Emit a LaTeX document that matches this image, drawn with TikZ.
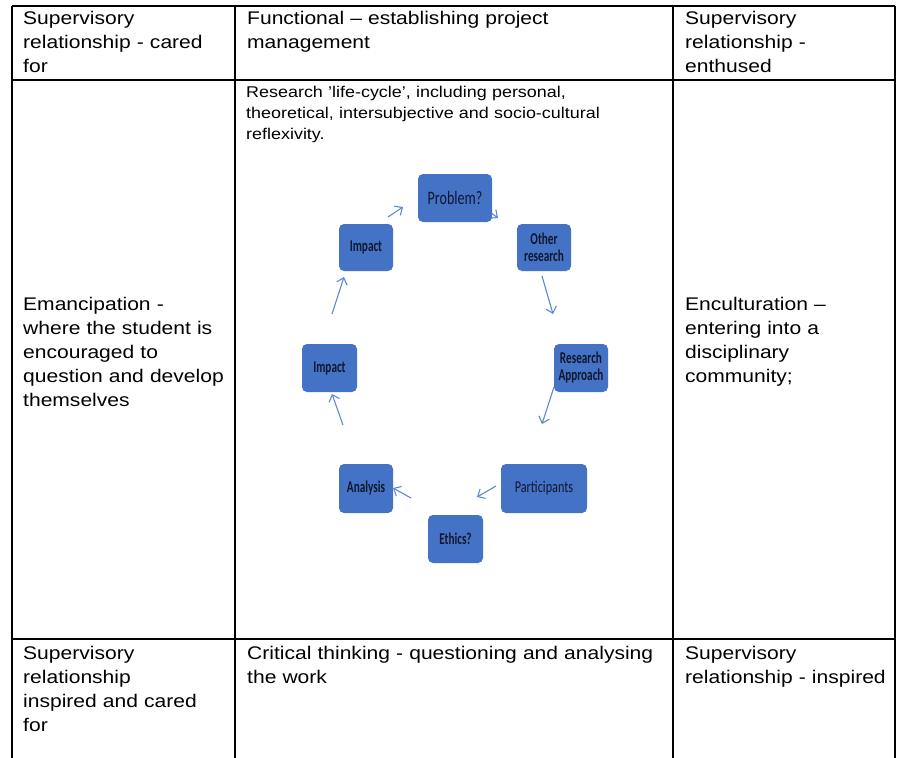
\documentclass[tikz,border=0pt]{standalone}
\usepackage{fontspec}
\setmainfont{Liberation Sans}[FakeStretch=1.15]
\newfontfamily\labelfont{Carlito}[FakeStretch=0.74]
\newfontfamily\labelboldfont{Carlito}[FakeStretch=0.68]
\usetikzlibrary{arrows.meta}
\definecolor{boxblue}{HTML}{4472C4}
\definecolor{arrowblue}{HTML}{5F88D2}
\definecolor{labelink}{HTML}{121730}
\tikzset{
  cellline/.style={line width=1.3pt, black},
  celltext/.style={anchor=base west, inner sep=0pt, align=left, text width=#1,
    font=\fontsize{18.3}{24}\selectfont},
  smalltext/.style={anchor=base west, inner sep=0pt, align=left, text width=#1,
    font=\fontsize{15.6}{21}\selectfont},
  cyclebox/.style={draw=none, fill=boxblue, rounded corners=5pt, inner sep=0pt,
    minimum width=#1, minimum height=48pt, text=labelink, align=center,
    font=\labelboldfont\bfseries\fontsize{16.5}{17}\selectfont},
  cyclebox/.default=54pt,
  cyclearrow/.style={draw=arrowblue, line width=1.1pt,
    -{Straight Barb[length=6pt, width=11pt, line width=1.1pt]}}
}
\begin{document}
\begin{tikzpicture}[x=1pt, y=-1pt]
\useasboundingbox (0,0) rectangle (898,758);
\fill[white] (0,0) rectangle (898,758);

% table grid
\draw[cellline] (12,6) -- (895,6);
\draw[cellline] (12,80) -- (895,80);
\draw[cellline] (12,639) -- (895,639);
\draw[cellline] (12,6) -- (12,758);
\draw[cellline] (235,6) -- (235,758);
\draw[cellline] (673,6) -- (673,758);
\draw[cellline] (895,6) -- (895,758);

% header row
\node[celltext=210pt] (h1) at (23,24) {Supervisory\\relationship - cared\\for};
\node[celltext=420pt] (h2) at (247,24) {Functional – establishing project\\management};
\node[celltext=210pt] (h3) at (685,24) {Supervisory\\relationship -\\enthused};

% middle row
\node[celltext=210pt] (m1) at (23,310) {Emancipation -\\where the student is\\encouraged to\\question and develop\\themselves};
\node[smalltext=420pt] (m2) at (246,97) {Research ’life-cycle’, including personal,\\theoretical, intersubjective and socio-cultural\\reflexivity.};
\node[celltext=210pt] (m3) at (685,310) {Enculturation –\\entering into a\\disciplinary\\community;};

% footer row
\node[celltext=210pt] (f1) at (23,659) {Supervisory\\relationship\\inspired and cared\\for};
\node[celltext=420pt] (f2) at (247,659) {Critical thinking - questioning and analysing\\the work};
\node[celltext=210pt] (f3) at (685,659) {Supervisory\\relationship - inspired};

% arrow partly hidden behind the problem box
\coordinate (p0) at (482,206);
\coordinate (p1) at (498,218);
\draw[cyclearrow] (p0) -- (p1);

% research cycle
\node[cyclebox=74pt, font=\labelfont\fontsize{19}{20}\selectfont] (prob) at (455,198) {Problem?};
\node[cyclebox, minimum height=47pt] (other) at (544,247.5) {Other\\research};
\node[cyclebox, minimum height=47pt] (imptop) at (366,247.5) {Impact};
\node[cyclebox] (resap) at (581,368) {Research\\Approach};
\node[cyclebox=55pt] (implow) at (329.5,368) {Impact};
\node[cyclebox, minimum height=49pt] (anal) at (366,488.5) {Analysis};
\node[cyclebox=86pt, minimum height=49pt, font=\labelfont\fontsize{16.5}{18}\selectfont] (part) at (544,488.5) {Participants};
\node[cyclebox=55pt] (eth) at (455.5,539) {Ethics?};

% arrow end points
\coordinate (a1s) at (388,217);
\coordinate (a1e) at (403,207);
\coordinate (a3s) at (542,276);
\coordinate (a3e) at (553,314);
\coordinate (a4s) at (554,387);
\coordinate (a4e) at (542,424);
\coordinate (a5s) at (496,486);
\coordinate (a5e) at (477,497);
\coordinate (a6s) at (411,498);
\coordinate (a6e) at (393,488);
\coordinate (a7s) at (343,425);
\coordinate (a7e) at (332,394);
\coordinate (a8s) at (332,314);
\coordinate (a8e) at (344,277);

\draw[cyclearrow] (a1s) -- (a1e);
\draw[cyclearrow] (a3s) -- (a3e);
\draw[cyclearrow] (a4s) -- (a4e);
\draw[cyclearrow] (a5s) -- (a5e);
\draw[cyclearrow] (a6s) -- (a6e);
\draw[cyclearrow] (a7s) -- (a7e);
\draw[cyclearrow] (a8s) -- (a8e);
\end{tikzpicture}
\end{document}
